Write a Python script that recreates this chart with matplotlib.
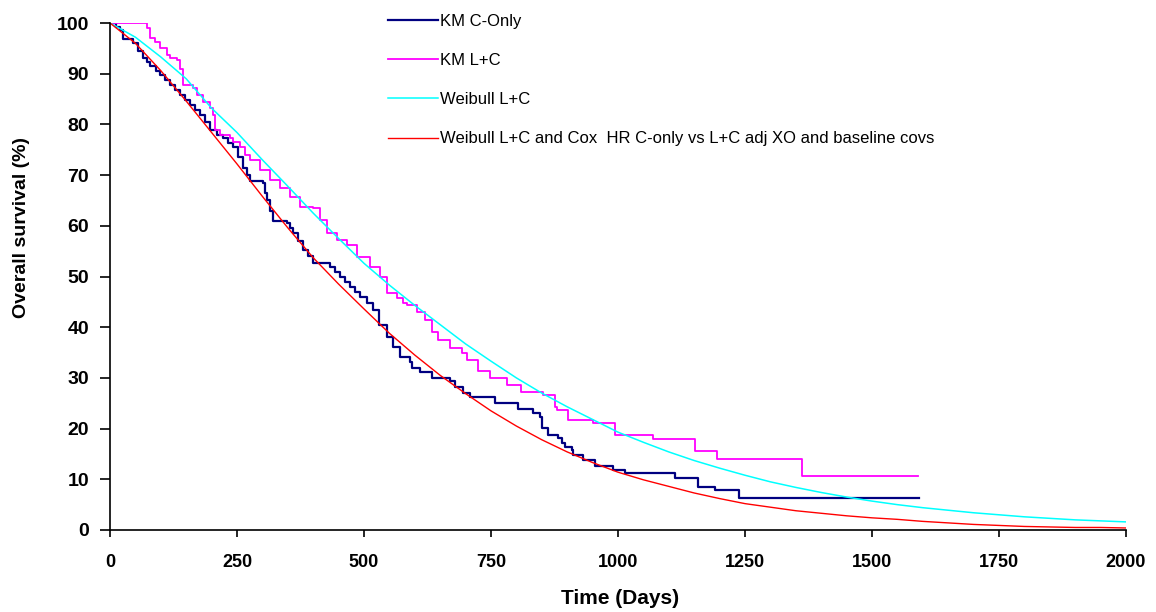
import matplotlib
matplotlib.use("Agg")
import matplotlib.pyplot as plt

# KM C-only (step curve, days / % surviving)
km_c_t = [0, 12, 20, 26, 45, 55, 65, 72, 79, 90, 98, 108, 118, 128, 138, 148, 157, 167,
          177, 187, 197, 210, 222, 232, 242, 252, 262, 270, 276, 301, 305, 309, 315, 321,
          348, 354, 360, 370, 380, 390, 400, 433, 443, 453, 462, 472, 482, 492, 505, 518,
          530, 545, 558, 571, 591, 594, 610, 634, 669, 679, 695, 709, 758, 803, 833, 846,
          850, 862, 882, 890, 896, 909, 911, 931, 955, 990, 1014, 1112, 1158, 1191, 1238, 1593]
km_c_s = [100, 99.3, 98.6, 96.8, 96.0, 94.5, 93.0, 92.3, 91.5, 90.5, 89.7, 88.7, 87.8, 86.8,
          85.8, 84.8, 83.8, 82.8, 81.9, 80.4, 78.9, 78.0, 77.3, 76.3, 75.5, 73.5, 71.4, 70.0,
          68.8, 68.4, 66.5, 65.0, 63.0, 61.0, 60.5, 59.5, 58.6, 57.0, 55.2, 54.0, 52.6, 51.9,
          50.9, 49.9, 48.9, 47.9, 47.0, 46.0, 44.7, 43.4, 40.5, 38.0, 36.0, 34.1, 33.1, 31.9,
          31.2, 30.0, 29.4, 28.2, 27.0, 26.2, 25.0, 23.8, 23.0, 22.3, 20.1, 18.7, 18.1, 17.2,
          16.4, 15.8, 14.8, 13.8, 12.6, 11.8, 11.2, 10.3, 8.5, 7.9, 6.3, 6.3]

# KM L+C
km_lc_t = [0, 60, 72, 79, 89, 98, 112, 118, 132, 138, 144, 163, 171, 183, 197, 203, 207, 217,
           236, 242, 256, 265, 276, 295, 315, 335, 354, 374, 400, 413, 427, 447, 467, 486, 512,
           531, 545, 565, 577, 584, 604, 620, 634, 646, 669, 693, 703, 724, 748, 781, 809, 852,
           876, 880, 902, 951, 994, 1069, 1152, 1195, 1362, 1590]
km_lc_s = [100, 100, 99.0, 97.0, 96.3, 95.0, 93.7, 93.0, 92.7, 91.0, 87.8, 87.2, 85.8, 84.4,
           83.2, 81.9, 78.9, 77.9, 77.3, 76.5, 75.5, 74.0, 73.0, 71.0, 69.0, 67.5, 65.7, 63.7,
           63.5, 61.1, 58.6, 57.2, 56.2, 53.8, 51.9, 49.9, 46.7, 45.8, 44.8, 44.4, 43.0, 41.4,
           39.1, 37.5, 35.9, 34.9, 33.5, 31.4, 30.0, 28.6, 27.2, 26.7, 24.3, 23.7, 21.7, 21.1,
           18.7, 17.9, 15.6, 14.0, 10.7, 10.7]

# fitted curves, read every 50 days
fit_t = list(range(0, 2001, 50))
weib_lc = [100, 97.2, 93.3, 89.0, 83.2, 78.4, 73.0, 67.8, 62.5, 57.5, 52.6, 48.3, 44.3, 40.5,
           36.7, 33.3, 30.0, 27.0, 24.3, 21.8, 19.3, 17.3, 15.4, 13.7, 12.2, 10.8, 9.5, 8.4,
           7.4, 6.5, 5.7, 5.0, 4.4, 3.9, 3.4, 3.0, 2.6, 2.3, 2.0, 1.8, 1.6]
weib_cox = [100, 96.0, 90.6, 84.6, 78.4, 72.2, 65.8, 59.6, 53.7, 48.5, 43.6, 38.8, 34.5, 30.5,
            26.9, 23.5, 20.5, 17.8, 15.4, 13.3, 11.4, 9.9, 8.6, 7.3, 6.2, 5.2, 4.5, 3.8, 3.3,
            2.8, 2.4, 2.1, 1.7, 1.4, 1.1, 0.9, 0.7, 0.6, 0.5, 0.5, 0.4]

labels = ["KM C-Only", "KM L+C", "Weibull L+C",
          "Weibull L+C and Cox  HR C-only vs L+C adj XO and baseline covs"]

plt.rcParams['font.family'] = ['Liberation Sans', 'DejaVu Sans']
narrow = ['Liberation Sans Narrow', 'Liberation Sans', 'DejaVu Sans']

fig = plt.figure(figsize=(11.56, 6.12), dpi=100)
ax = fig.add_axes([110 / 1156, 1 - 530 / 612, 1016 / 1156, 507 / 612])

ax.plot(km_c_t, km_c_s, drawstyle='steps-post', color='#000080', lw=1.6, label=labels[0])
ax.plot(km_lc_t, km_lc_s, drawstyle='steps-post', color='#FF00FF', lw=1.3, label=labels[1])
ax.plot(fit_t, weib_lc, color='#00FFFF', lw=1.1, label=labels[2])
ax.plot(fit_t, weib_cox, color='#FF0000', lw=1.0, label=labels[3])

ax.set_xlim(0, 2000)
ax.set_ylim(0, 100)
ax.set_xticks(range(0, 2001, 250))
ax.set_yticks(range(0, 101, 10))
for s in ['top', 'right']:
    ax.spines[s].set_visible(False)
for s in ['left', 'bottom']:
    ax.spines[s].set_linewidth(1.2)
ax.tick_params(axis='x', direction='out', length=5, width=1.2, pad=12)
ax.tick_params(axis='y', direction='out', length=7, width=1.2, pad=8)
for lab in ax.get_xticklabels():
    lab.set_family(narrow)
    lab.set_fontweight('bold')
    lab.set_fontsize(13)
for lab in ax.get_yticklabels():
    lab.set_fontweight('bold')
    lab.set_fontsize(14)

fig.text(620 / 1156, 1 - 598 / 612, "Time (Days)", ha='center', va='center',
         fontsize=15, fontweight='bold', family=narrow)
fig.text(22 / 1156, 1 - 228 / 612, "Overall survival (%)", ha='center', va='center',
         rotation=90, fontsize=14, fontweight='bold')

leg = ax.legend(loc='upper left', bbox_to_anchor=(388 / 1156, 1 - 14 / 612),
                bbox_transform=fig.transFigure, frameon=False, fontsize=12,
                handlelength=3.0, handletextpad=0.1, labelspacing=1.45, borderpad=0,
                borderaxespad=0)

fig.savefig("out.png", dpi=100)
